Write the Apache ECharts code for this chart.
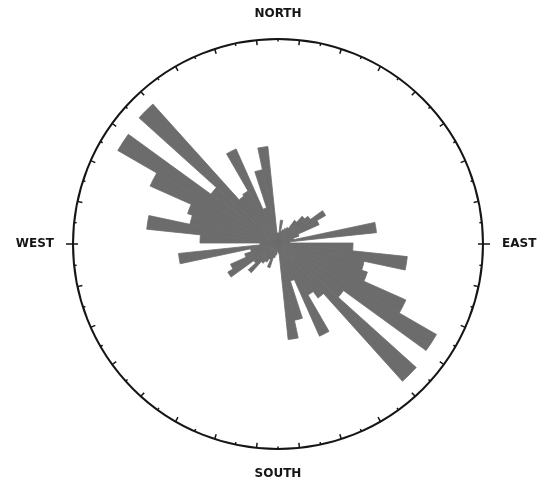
<!DOCTYPE html>
<html>
<head>
<meta charset="utf-8">
<title>Rose diagram</title>
<script src="https://cdn.jsdelivr.net/npm/echarts@6/dist/echarts.min.js"></script>
<style>
html, body { margin: 0; padding: 0; background: #fff; }
#main { width: 547px; height: 482px; }
</style>
</head>
<body>
<div id="main"></div>
<script>
// 6 degree bins, bearing of the start of each bin (clockwise from north)
var binStarts = [0, 6, 12, 18, 24, 30, 36, 42, 48, 54,
	60, 66, 72, 78, 84, 90, 96, 102, 108, 114,
	120, 126, 132, 138, 144, 150, 156, 162, 168, 174,
	180, 186, 192, 198, 204, 210, 216, 222, 228, 234,
	240, 246, 252, 258, 264, 270, 276, 282, 288, 294,
	300, 306, 312, 318, 324, 330, 336, 342, 348, 354];
// bar length per bin (rim of the circle = 205)
var binValues = [10, 23, 12, 14, 16, 18, 28, 36, 40, 55,
	45, 22, 16, 99, 12, 75, 130, 88, 94, 140,
	183, 81, 186, 68, 60, 102, 40, 79, 97, 10,
	8, 12, 15, 26, 18, 22, 25, 40, 30, 58,
	52, 35, 28, 100, 18, 78, 132, 90, 95, 140,
	185, 83, 187, 58, 60, 103, 37, 75, 97, 10];
var rimMax = 205;
var cardinalLabels = ['NORTH', 'EAST', 'SOUTH', 'WEST'];

var ink = '#151515';
var barGrey = '#6c6c6c';
var myChart = echarts.init(document.getElementById('main'));

function hiddenRadius(idx, max) {
	return {
		polarIndex: idx, type: 'value', min: 0, max: max,
		axisLine: { show: false }, axisTick: { show: false },
		axisLabel: { show: false }, splitLine: { show: false }
	};
}

var option = {
	animation: false,
	backgroundColor: '#fff',
	polar: [
		{ center: [278, 243], radius: 205 }, // bars
		{ center: [278, 244], radius: 205 }, // rim and ticks
		{ center: [278, 244], radius: 205 }, // east / west marks
		{ center: [278, 244], radius: 205 }  // compass names
	],
	angleAxis: [{
		polarIndex: 0, type: 'category', data: binStarts,
		startAngle: 90, clockwise: true,
		axisLine: { show: false }, axisTick: { show: false },
		axisLabel: { show: false }, splitLine: { show: false }
	}, {
		polarIndex: 1, type: 'value', min: 0, max: 360, interval: 12,
		startAngle: 96, clockwise: true,
		axisLine: { lineStyle: { color: ink, width: 2 } },
		axisTick: { inside: true, length: 5, lineStyle: { color: ink, width: 1.5 } },
		minorTick: { show: true, splitNumber: 2, length: 2.5, lineStyle: { color: ink, width: 1.5 } },
		axisLabel: { show: false }, splitLine: { show: false }
	}, {
		polarIndex: 2, type: 'value', min: 0, max: 360, interval: 180,
		startAngle: 0, clockwise: true,
		axisLine: { show: false },
		axisTick: { length: 7, lineStyle: { color: ink, width: 1.5 } },
		axisLabel: { show: false }, splitLine: { show: false }
	}, {
		polarIndex: 3, type: 'value', min: 0, max: 360, interval: 90,
		startAngle: 90, clockwise: true,
		axisLine: { show: false }, axisTick: { show: false }, splitLine: { show: false },
		axisLabel: {
			margin: 19, color: ink, fontFamily: 'DejaVu Sans', fontWeight: 'bold', fontSize: 12,
			formatter: function(v) { return v < 360 ? cardinalLabels[v / 90] : ''; }
		}
	}],
	radiusAxis: [hiddenRadius(0, rimMax), hiddenRadius(1, 1), hiddenRadius(2, 1), hiddenRadius(3, 1)],
	series: [{
		type: 'bar',
		coordinateSystem: 'polar',
		polarIndex: 0,
		data: binValues,
		barCategoryGap: '0%',
		silent: true,
		// border in the same grey hides the seams between neighbouring bins
		itemStyle: { color: barGrey, borderColor: barGrey, borderWidth: 0.8 }
	}]
};
myChart.setOption(option);
</script>
</body>
</html>
